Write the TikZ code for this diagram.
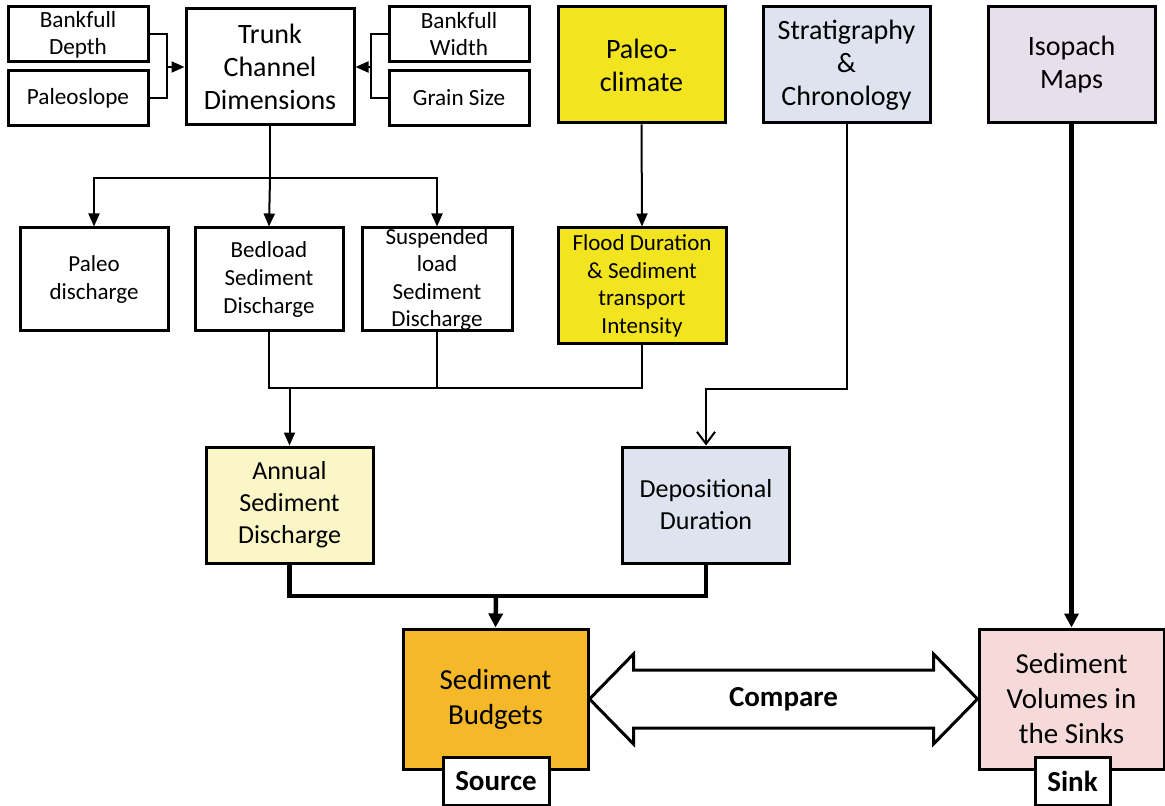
\documentclass[tikz,border=0pt]{standalone}
\usepackage{fontspec}
\setmainfont{Carlito}
\usepackage{tikz}
\usetikzlibrary{shapes, arrows.meta, positioning}
\usetikzlibrary{calc}

\definecolor{climateyellow}{RGB}{242,229,32}
\definecolor{stratblue}{RGB}{221,228,239}
\definecolor{isolilac}{RGB}{233,222,235}
\definecolor{annualcream}{RGB}{251,246,198}
\definecolor{budgetorange}{RGB}{245,184,40}
\definecolor{sinkpink}{RGB}{246,218,218}

\begin{document}
\begin{tikzpicture}
  [
    x=0.5pt, y=-0.5pt,
    Box/.style={rectangle, draw=black, line width=1.5pt, align=center, inner sep=0pt},
    Small/.style={Box, fill=white, minimum width=70pt, minimum height=27.5pt, font=\fontsize{11.6}{13.5}\selectfont},
    Trunk/.style={Box, fill=white, minimum width=84pt, minimum height=58pt, font=\fontsize{14}{16.5}\selectfont},
    Top/.style={Box, minimum width=83.5pt, minimum height=58pt, font=\fontsize{14}{16.5}\selectfont},
    Mid/.style={Box, fill=white, minimum width=74pt, minimum height=51.5pt, font=\fontsize{11.5}{13.8}\selectfont},
    Low/.style={Box, minimum width=83.5pt, minimum height=58pt, font=\fontsize{13}{16}\selectfont},
    Big/.style={Box, minimum width=92.5pt, minimum height=70pt, font=\fontsize{14.5}{17.5}\selectfont},
    Tag/.style={Box, fill=white, minimum height=24pt, font=\fontsize{14.5}{16}\selectfont\bfseries},
    Thin/.style={line width=1pt, -{Triangle[length=6.5pt, width=5.5pt]}},
    Fat/.style={line width=2.25pt, -{Triangle[length=7pt, width=7pt]}}
  ]
  \useasboundingbox (0,0) rectangle (1165,806);

  % Nodes
  \node[Small] (bdepth) at (78, 34.5) {Bankfull\\Depth};
  \node[Small] (pslope) at (78, 98) {Paleoslope};
  \node[Trunk] (trunk) at (270, 67) {Trunk\\Channel\\Dimensions};
  \node[Small] (bwidth) at (459, 34.5) {Bankfull\\Width};
  \node[Small] (gsize) at (459, 98) {Grain Size};

  \node[Top, fill=climateyellow] (pclimate) at (641.5, 65) {Paleo-\\climate};
  \node[Top, fill=stratblue] (strat) at (846.5, 65) {Stratigraphy\\\&\\Chronology};
  \node[Top, fill=isolilac] (isopach) at (1071.5, 65) {Isopach\\Maps};

  \node[Mid] (pdis) at (94, 279.5) {Paleo\\discharge};
  \node[Mid] (bedload) at (269, 279.5) {Bedload\\Sediment\\Discharge};
  \node[Mid, minimum width=75pt] (suspended) at (437, 279.5) {Suspended\\load\\Sediment\\Discharge};
  \node[Mid, fill=climateyellow, minimum width=84pt, minimum height=58pt] (flood) at (642, 286)
    {Flood Duration\\\& Sediment\\transport\\Intensity};

  \node[Low, fill=annualcream] (annual) at (289.5, 505) {Annual\\Sediment\\Discharge};
  \node[Low, fill=stratblue] (depo) at (706, 505) {Depositional\\Duration};

  \node[Big, fill=budgetorange] (budget) at (495.5, 699) {Sediment\\Budgets};
  \node[Big, fill=sinkpink] (sinkvol) at (1071.5, 699) {Sediment\\Volumes in\\the Sinks};
  \node[Tag, minimum width=53pt] (srctag) at (496, 781) {Source};
  \node[Tag, minimum width=37.5pt] (sinktag) at (1072.5, 781) {Sink};

  \coordinate (ljoin) at (167, 67);
  \coordinate (rjoin) at (371, 67);
  \coordinate (tsplit) at (270, 178);
  \coordinate (qline) at (642, 388);
  \coordinate (dtop) at (706, 389);
  \coordinate (bjoin) at (496, 596);

  % Lines
  \draw[line width=1pt] (bdepth.east) -| (ljoin) |- (pslope.east);
  \draw[Thin] (ljoin) -- (trunk.west);
  \draw[line width=1pt] (bwidth.west) -| (rjoin) |- (gsize.west);
  \draw[Thin] (rjoin) -- (trunk.east);

  \draw[line width=1pt] (trunk.south) -- (tsplit);
  \draw[Thin] (tsplit) -| (pdis.north);
  \draw[Thin] (tsplit) -- (bedload.north);
  \draw[Thin] (tsplit) -| (suspended.north);
  \draw[Thin] (pclimate.south) -- (flood.north);

  \draw[line width=1pt] (bedload.south) |- (qline) -- (flood.south);
  \draw[line width=1pt] (suspended.south) -- (suspended.south |- qline);
  \draw[Thin] (annual.north |- qline) -- (annual.north);
  \draw[line width=1pt, -{Straight Barb[length=6pt, width=9pt]}] (strat.south) |- (dtop) -- (depo.north);

  \draw[line width=2.25pt] (annual.south) |- (bjoin) -| (depo.south);
  \draw[Fat] (bjoin) -- (budget.north);
  \draw[Fat] (isopach.south) -- (sinkvol.north);

  % Compare arrow
  \draw[line width=1.5pt, fill=white] (budget.east) -- ++(44,-45) -- ++(0,16)
    -- ($(sinkvol.west)+(-44,-29)$) -- ++(0,-16) -- (sinkvol.west) -- ++(-44,45) -- ++(0,-16)
    -- ($(budget.east)+(44,29)$) -- ++(0,16) -- cycle;
  \node[font=\fontsize{14.5}{16}\selectfont\bfseries] (compare) at ($(budget.east)!0.5!(sinkvol.west)$) {Compare};

\end{tikzpicture}
\end{document}
